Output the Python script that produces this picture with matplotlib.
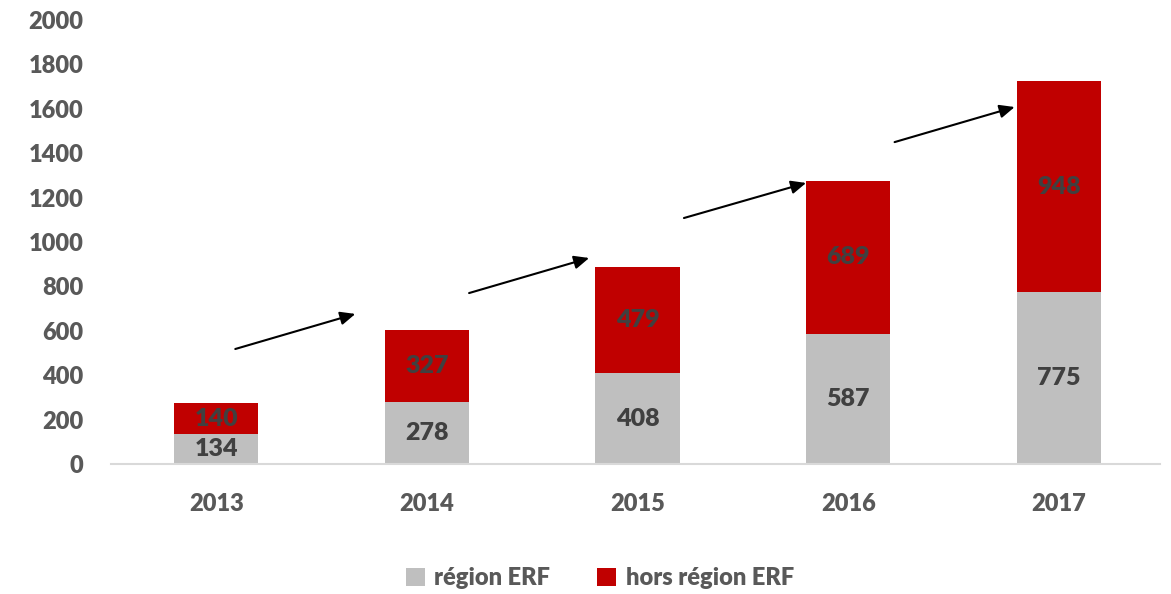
import matplotlib.pyplot as plt
import numpy as np

# data
years = ['2013', '2014', '2015', '2016', '2017']
region_erf = [134, 278, 408, 587, 775]
hors_region_erf = [140, 327, 479, 689, 948]

# arrows between bars (data coords: x0, y0, x1, y1)
arrows = [(0.09, 518, 0.66, 676),
          (1.20, 770, 1.77, 928),
          (2.22, 1108, 2.80, 1266),
          (3.22, 1450, 3.79, 1608)]

plt.rcParams['font.family'] = ['Lato', 'DejaVu Sans']
plt.rcParams['font.weight'] = 'heavy'

grey = '#BFBFBF'
red = '#C00000'
txt = '#595959'

fig = plt.figure(figsize=(11.71, 5.94), dpi=100)
ax = fig.add_axes([111 / 1171, 130 / 594, 1049 / 1171, 444 / 594])

x = np.arange(len(years))
b1 = ax.bar(x, region_erf, width=0.4, color=grey, label='région ERF')
b2 = ax.bar(x, hors_region_erf, width=0.4, bottom=region_erf, color=red,
            label='hors région ERF')

ax.bar_label(b1, label_type='center', color='#404040', fontsize=18, fontweight='heavy')
ax.bar_label(b2, label_type='center', color='#404040', fontsize=18, fontweight='heavy')

for x0, y0, x1, y1 in arrows:
    ax.annotate('', xy=(x1, y1), xytext=(x0, y0),
                arrowprops=dict(arrowstyle='-|>,head_length=0.9,head_width=0.4',
                                color='black', lw=1.5, shrinkA=0, shrinkB=0))

ax.set_xlim(-0.5, 4.48)
ax.set_ylim(0, 2000)
ax.set_yticks(range(0, 2001, 200))
ax.set_xticks(x)
ax.set_xticklabels(years)

for s in ['top', 'right', 'left']:
    ax.spines[s].set_visible(False)
ax.spines['bottom'].set_color('#D9D9D9')
ax.spines['bottom'].set_linewidth(1.5)
ax.tick_params(axis='both', length=0, labelsize=17, labelcolor=txt)
ax.tick_params(axis='y', pad=20)
ax.tick_params(axis='x', pad=21)

leg = fig.legend(loc='center', bbox_to_anchor=(600 / 1171, 1 - 578 / 594), ncol=2,
                 frameon=False, fontsize=17, handlelength=0.8, handleheight=0.8,
                 handletextpad=0.4, columnspacing=2.0)
for t in leg.get_texts():
    t.set_color(txt)

fig.savefig('out.png', dpi=100)
